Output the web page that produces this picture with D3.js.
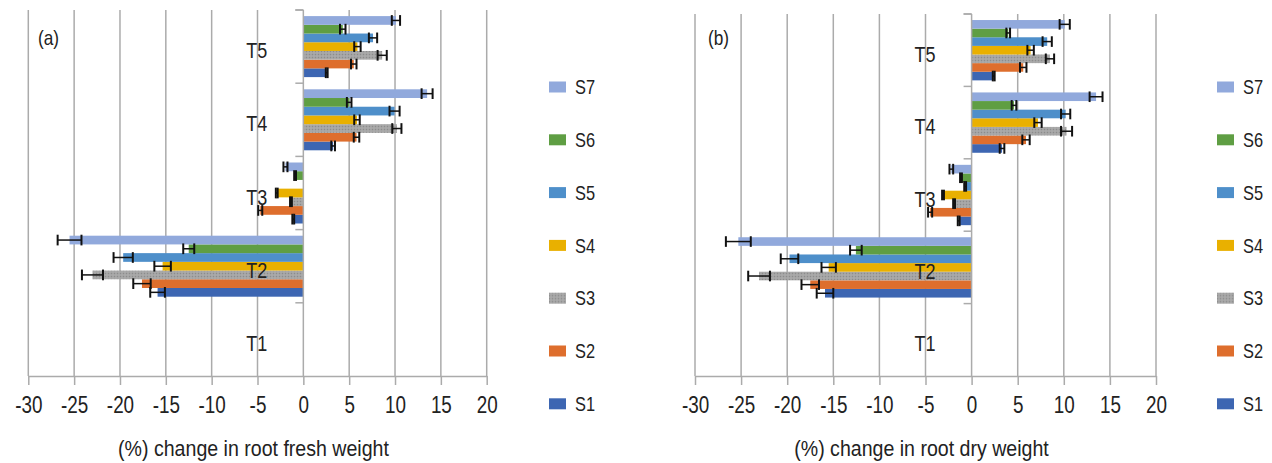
<!DOCTYPE html>
<html>
<head>
<meta charset="utf-8">
<script src="https://cdn.jsdelivr.net/npm/d3@7"></script>
<style>
  body { margin: 0; background: #fff; }
  svg text { font-family: "Liberation Sans", Arial, sans-serif; fill: #222; }
</style>
</head>
<body>
<svg id="chart"></svg>
<script>
// categories + series
const treatments = ["T1", "T2", "T3", "T4", "T5"];
const series = ["S1", "S2", "S3", "S4", "S5", "S6", "S7"];
const xTicks = [-30, -25, -20, -15, -10, -5, 0, 5, 10, 15, 20];

// (a) % change in root fresh weight, per series over T1..T5
const freshS1 = [0, -15.9, -1.1, 3.25, 2.55];
const freshS2 = [0, -17.6, -4.7, 5.8, 5.5];
const freshS3 = [0, -23.0, -1.35, 10.2, 8.6];
const freshS4 = [0, -15.35, -2.9, 5.85, 5.9];
const freshS5 = [0, -19.65, 0, 9.95, 7.6];
const freshS6 = [0, -12.5, -0.9, 5.0, 4.3];
const freshS7 = [0, -25.5, -1.95, 13.5, 10.1];
const freshErrS1 = [0, 0.8, 0.1, 0.2, 0.1];
const freshErrS2 = [0, 0.95, 0.22, 0.3, 0.3];
const freshErrS3 = [0, 1.15, 0.1, 0.5, 0.5];
const freshErrS4 = [0, 0.9, 0.1, 0.3, 0.35];
const freshErrS5 = [0, 1.05, 0, 0.55, 0.45];
const freshErrS6 = [0, 0.6, 0.1, 0.25, 0.3];
const freshErrS7 = [0, 1.3, 0.22, 0.6, 0.45];

// (b) % change in root dry weight
const dryS1 = [0, -15.9, -1.4, 3.3, 2.4];
const dryS2 = [0, -17.5, -4.5, 5.9, 5.6];
const dryS3 = [0, -23.05, -1.9, 10.3, 8.5];
const dryS4 = [0, -15.5, -3.1, 7.2, 6.4];
const dryS5 = [0, -19.75, -0.7, 10.2, 8.2];
const dryS6 = [0, -12.55, -1.15, 4.6, 3.97];
const dryS7 = [0, -25.3, -2.2, 13.5, 10.1];
const dryErrS1 = [0, 0.9, 0.1, 0.25, 0.1];
const dryErrS2 = [0, 0.95, 0.22, 0.4, 0.35];
const dryErrS3 = [0, 1.18, 0.1, 0.6, 0.45];
const dryErrS4 = [0, 0.78, 0.1, 0.4, 0.35];
const dryErrS5 = [0, 0.95, 0.1, 0.5, 0.5];
const dryErrS6 = [0, 0.63, 0.1, 0.25, 0.2];
const dryErrS7 = [0, 1.35, 0.2, 0.7, 0.55];

const colors = {
  S1: "#3d66b2", S2: "#de6e2d", S3: "url(#dots)", S4: "#e9b000",
  S5: "#4e8fca", S6: "#5f9e43", S7: "#91a9dc",
};

function toRows(vals, errs) {
  let rows = [];
  series.forEach((s, i) => {
    treatments.forEach((t, j) => {
      rows.push({ series: s, treatment: t, value: vals[i][j], err: errs[i][j] });
    });
  });
  return rows;
}

// the source figure uses a condensed face; squeeze text horizontally
function narrow(sel, sx = 0.85) {
  sel.each(function () {
    const t = d3.select(this);
    const x = +t.attr("x") || 0, y = +t.attr("y") || 0;
    t.attr("x", null).attr("y", null)
      .attr("transform", `translate(${x}, ${y}) scale(${sx}, 1)`);
  });
}

class BarPanel {
  constructor(svg, opts) {
    this.svg = svg;
    this.opts = opts;
  }
  initialize() {
    this.g = this.svg.append("g");
    this.xScale = d3.scaleLinear().domain([-30, 20]).range(this.opts.xRange);
    this.yScale = d3.scaleBand().domain(treatments).range([this.opts.yRange[1], this.opts.yRange[0]]);
    // S1 at bottom of each group
    this.inner = d3.scaleBand().domain(series.slice().reverse())
      .range([0, this.yScale.bandwidth()]).paddingInner(0).paddingOuter(0.7);
  }
  update(data) {
    const x = this.xScale, y = this.yScale, inner = this.inner;
    const [y0, y1] = this.opts.yRange;
    const g = this.g;

    // gridlines
    g.append("g")
      .selectAll("line")
      .data(xTicks.filter((d) => d !== 0))
      .join("line")
      .attr("x1", (d) => x(d)).attr("x2", (d) => x(d))
      .attr("y1", y0).attr("y2", y1)
      .attr("stroke", "#ababab").attr("stroke-width", 1.5);

    // x axis
    const xAxis = g.append("g")
      .attr("transform", `translate(0, ${y1})`)
      .call(d3.axisBottom(x).tickValues(xTicks).tickFormat((d) => String(d))
        .tickSize(9).tickSizeOuter(0).tickPadding(12));
    xAxis.select(".domain").attr("stroke", "#ababab").attr("stroke-width", 1.5);
    xAxis.selectAll(".tick line").attr("stroke", "#ababab").attr("stroke-width", 1.5);
    xAxis.selectAll(".tick text").attr("font-size", 23).attr("fill", "#222")
      .attr("font-family", null).call(narrow, 0.82);

    // bars
    g.append("g")
      .selectAll("rect")
      .data(data)
      .join("rect")
      .attr("x", (d) => x(Math.min(0, d.value)))
      .attr("width", (d) => Math.abs(x(d.value) - x(0)))
      .attr("y", (d) => y(d.treatment) + inner(d.series))
      .attr("height", inner.bandwidth())
      .attr("fill", (d) => colors[d.series]);

    // error bars
    const eb = g.append("g")
      .selectAll("g")
      .data(data.filter((d) => d.err > 0))
      .join("g")
      .attr("stroke", "#111")
      .attr("stroke-width", 2);
    const cy = (d) => y(d.treatment) + inner(d.series) + inner.bandwidth() / 2;
    const hh = inner.bandwidth() / 2 + 1;
    eb.append("line")
      .attr("x1", (d) => x(d.value - d.err)).attr("x2", (d) => x(d.value + d.err))
      .attr("y1", cy).attr("y2", cy).attr("stroke-width", 1.5);
    eb.append("line")
      .attr("x1", (d) => x(d.value - d.err)).attr("x2", (d) => x(d.value - d.err))
      .attr("y1", (d) => cy(d) - hh).attr("y2", (d) => cy(d) + hh);
    eb.append("line")
      .attr("x1", (d) => x(d.value + d.err)).attr("x2", (d) => x(d.value + d.err))
      .attr("y1", (d) => cy(d) - hh).attr("y2", (d) => cy(d) + hh);

    // category axis at zero
    const yAxis = g.append("g")
      .attr("transform", `translate(${x(0)}, 0)`);
    yAxis.append("line")
      .attr("y1", y0).attr("y2", y1)
      .attr("stroke", "#ababab").attr("stroke-width", 1.5);
    yAxis.selectAll("line.tick")
      .data(treatments.map((t) => y(t)).concat([y0]))
      .join("line")
      .attr("class", "tick")
      .attr("x1", -8).attr("x2", 0)
      .attr("y1", (d) => d).attr("y2", (d) => d)
      .attr("stroke", "#ababab").attr("stroke-width", 1.5);
    yAxis.selectAll("text")
      .data(treatments)
      .join("text")
      .attr("x", -36)
      .attr("y", (d) => y(d) + y.bandwidth() / 2 + 4)
      .attr("text-anchor", "end")
      .attr("dominant-baseline", "central")
      .attr("font-size", 22)
      .text((d) => d)
      .call(narrow, 0.82);

    // panel label
    g.append("text")
      .attr("x", this.opts.labelX).attr("y", 38)
      .attr("dominant-baseline", "central")
      .attr("font-size", 21)
      .text(this.opts.label)
      .call(narrow, 0.82);

    // axis title
    g.append("text")
      .attr("x", (x.range()[0] + x.range()[1]) / 2 - 4)
      .attr("y", 448)
      .attr("text-anchor", "middle")
      .attr("dominant-baseline", "central")
      .attr("font-size", 22)
      .text(this.opts.title)
      .call(narrow, 0.89);

    // legend
    const lg = g.append("g")
      .attr("transform", `translate(${this.opts.legendX}, 87)`)
      .selectAll("g")
      .data(series.slice().reverse())
      .join("g")
      .attr("transform", (d, i) => `translate(0, ${i * 52.8})`);
    lg.append("rect")
      .attr("x", 0).attr("y", -5.5)
      .attr("width", 17).attr("height", 11)
      .attr("fill", (d) => colors[d]);
    lg.append("text")
      .attr("x", 26).attr("y", 0)
      .attr("dominant-baseline", "central")
      .attr("font-size", 20)
      .text((d) => d)
      .call(narrow, 0.82);
  }
}

const svg = d3.select("#chart").attr("width", 1272).attr("height", 463);

// dotted grey fill for S3, like the office pattern
const pat = svg.append("defs").append("pattern")
  .attr("id", "dots").attr("patternUnits", "userSpaceOnUse")
  .attr("width", 3).attr("height", 3);
pat.append("rect").attr("width", 3).attr("height", 3).attr("fill", "#a3a3a3");
pat.append("rect").attr("width", 1).attr("height", 1).attr("fill", "#8c8c8c");
pat.append("rect").attr("x", 1.5).attr("y", 1.5).attr("width", 1).attr("height", 1).attr("fill", "#bdbdbd");

const panelA = new BarPanel(svg, {
  xRange: [28.3, 486.7], yRange: [10, 376], legendX: 549,
  label: "(a)", labelX: 38, title: "(%) change in root fresh weight",
});
panelA.initialize();
panelA.update(toRows(
  [freshS1, freshS2, freshS3, freshS4, freshS5, freshS6, freshS7],
  [freshErrS1, freshErrS2, freshErrS3, freshErrS4, freshErrS5, freshErrS6, freshErrS7]
));

const panelB = new BarPanel(svg, {
  xRange: [695, 1156], yRange: [14, 376], legendX: 1217,
  label: "(b)", labelX: 708, title: "(%) change in root dry weight",
});
panelB.initialize();
panelB.update(toRows(
  [dryS1, dryS2, dryS3, dryS4, dryS5, dryS6, dryS7],
  [dryErrS1, dryErrS2, dryErrS3, dryErrS4, dryErrS5, dryErrS6, dryErrS7]
));
</script>
</body>
</html>
